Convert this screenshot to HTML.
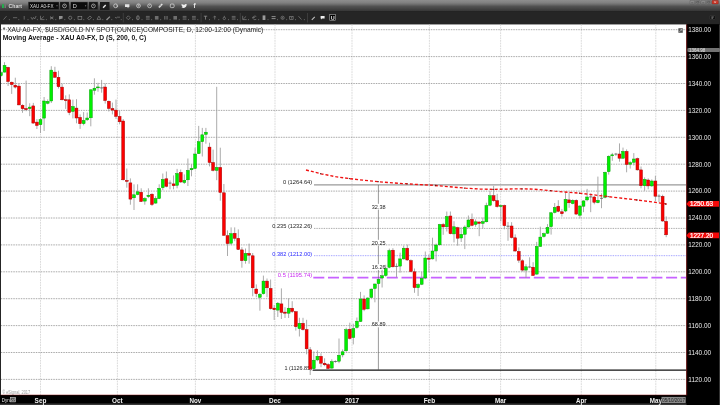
<!DOCTYPE html><html><head><meta charset="utf-8"><title>Chart</title><style>html,body{margin:0;padding:0;background:#000;overflow:hidden}svg{display:block}text{font-family:"Liberation Sans",sans-serif}</style></head><body>
<svg width="720" height="405" viewBox="0 0 720 405">
<defs><linearGradient id="tb" x1="0" y1="0" x2="0" y2="1"><stop offset="0" stop-color="#8e8e8e"/><stop offset="0.24" stop-color="#808080"/><stop offset="0.4" stop-color="#6a6a6a"/><stop offset="0.54" stop-color="#525252"/><stop offset="0.8" stop-color="#404040"/><stop offset="1" stop-color="#323232"/></linearGradient></defs>
<rect x="0" y="0" width="720" height="405" fill="#000"/>
<rect x="0" y="0" width="720" height="11.7" fill="url(#tb)"/>
<rect x="0" y="11.6" width="720" height="12.8" fill="#252525"/>
<rect x="0.8" y="24.4" width="685.7" height="370.6" fill="#fff"/>
<g stroke="#cdcdcd" stroke-width="0.7" stroke-dasharray="1.8 0.8">
<line x1="40.5" y1="24.4" x2="40.5" y2="395"/>
<line x1="117.4" y1="24.4" x2="117.4" y2="395"/>
<line x1="195.4" y1="24.4" x2="195.4" y2="395"/>
<line x1="275" y1="24.4" x2="275" y2="395"/>
<line x1="352" y1="24.4" x2="352" y2="395"/>
<line x1="429.4" y1="24.4" x2="429.4" y2="395"/>
<line x1="500.6" y1="24.4" x2="500.6" y2="395"/>
<line x1="581.3" y1="24.4" x2="581.3" y2="395"/>
<line x1="655.8" y1="24.4" x2="655.8" y2="395"/>
</g>
<g stroke="#626262" stroke-width="0.55" stroke-dasharray="1.5 1">
<line x1="0.8" y1="379.40" x2="686.5" y2="379.40"/>
<line x1="0.8" y1="352.50" x2="686.5" y2="352.50"/>
<line x1="0.8" y1="325.60" x2="686.5" y2="325.60"/>
<line x1="0.8" y1="298.70" x2="686.5" y2="298.70"/>
<line x1="0.8" y1="271.80" x2="686.5" y2="271.80"/>
<line x1="0.8" y1="244.90" x2="686.5" y2="244.90"/>
<line x1="0.8" y1="218.00" x2="686.5" y2="218.00"/>
<line x1="0.8" y1="191.10" x2="686.5" y2="191.10"/>
<line x1="0.8" y1="164.20" x2="686.5" y2="164.20"/>
<line x1="0.8" y1="137.30" x2="686.5" y2="137.30"/>
<line x1="0.8" y1="110.40" x2="686.5" y2="110.40"/>
<line x1="0.8" y1="83.50" x2="686.5" y2="83.50"/>
<line x1="0.8" y1="56.60" x2="686.5" y2="56.60"/>
<line x1="0.8" y1="29.70" x2="686.5" y2="29.70"/>
</g>
<text x="2.7" y="31.5" font-size="6.67" fill="#222" textLength="260.5" lengthAdjust="spacingAndGlyphs">* XAU A0-FX, $USD/GOLD NY SPOT(OUNCE)COMPOSITE, D, 12:00-12:00 (Dynamic)</text>
<text x="2.7" y="40.1" font-size="6.74" font-weight="bold" fill="#111" textLength="143.5" lengthAdjust="spacingAndGlyphs">Moving Average - XAU A0-FX, D (S, 200, 0, C)</text>
<text x="2.2" y="393.9" font-size="5.1" fill="#979797" textLength="28" lengthAdjust="spacingAndGlyphs">© eSignal, 2017</text>
<line x1="314" y1="184.86" x2="686.5" y2="184.86" stroke="#9a9a9a" stroke-width="1.1"/>
<line x1="314" y1="228.41" x2="686.5" y2="228.41" stroke="#444" stroke-width="0.55" stroke-dasharray="0.8 0.9"/>
<line x1="314" y1="255.66" x2="686.5" y2="255.66" stroke="#4848ff" stroke-width="0.6" stroke-dasharray="0.8 0.9"/>
<line x1="313.3" y1="277.53" x2="686.5" y2="277.53" stroke="#c862ff" stroke-width="1.7" stroke-dasharray="11 3.7"/>
<line x1="312.6" y1="370.19" x2="686.5" y2="370.19" stroke="#111" stroke-width="1.2"/>
<path d="M378.4 184.9V203.8M378.4 209.6V239.8M378.4 245.6V264.2M378.4 270.0V321.5M378.4 327.3V370.2" stroke="#555" stroke-width="0.6" fill="none"/>
<text x="282.9" y="184.25" font-size="5.7" fill="#222" textLength="29.3" lengthAdjust="spacingAndGlyphs">0 (1264.64)</text>
<text x="272.2" y="228.05" font-size="5.7" fill="#222" textLength="40.0" lengthAdjust="spacingAndGlyphs">0.235 (1232.26)</text>
<text x="272.2" y="255.85" font-size="5.7" fill="#2a2aff" textLength="40.0" lengthAdjust="spacingAndGlyphs">0.382 (1212.00)</text>
<text x="277.8" y="277.15" font-size="5.7" fill="#c828f0" textLength="34.4" lengthAdjust="spacingAndGlyphs">0.5 (1195.74)</text>
<text x="284.5" y="370.05" font-size="5.7" fill="#222" textLength="27.5" lengthAdjust="spacingAndGlyphs">1 (1126.85)</text>
<path d="M0.9 71.0V77.0M4.5 62.2V72.5M8.1 66.8V86.0M11.7 81.6V93.9M15.3 77.7V88.5M18.9 83.6V105.3M22.5 104.3V112.8M26.1 80.6V111.2M29.7 103.3V116.2M33.3 102.9V123.5M36.9 119.1V129.0M40.5 118.1V133.0M44.1 97.0V131.0M47.7 99.4V104.3M51.3 66.2V103.0M54.9 66.8V77.7M58.5 70.7V88.5M62.1 83.6V100.4M65.7 95.4V108.9M69.3 94.4V115.2M72.9 99.6V118.4M76.5 99.2V123.3M80.1 114.4V128.9M83.6 112.1V125.3M87.2 112.5V121.0M90.8 89.4V126.3M94.4 78.3V94.7M98.0 82.8V91.7M101.6 79.9V92.7M105.2 83.4V103.6M108.8 100.6V111.5M112.4 102.6V114.4M116.0 99.6V119.0M119.6 110.5V124.3M123.2 119.0V180.5M126.8 168.5V187.7M130.4 178.4V204.7M134.0 184.3V210.0M137.6 184.3V195.2M141.2 188.3V202.0M144.8 197.2V204.7M148.4 188.3V198.1M152.0 193.2V206.0M155.6 196.2V203.7M159.2 184.3V199.1M162.8 173.5V190.2M166.4 171.5V187.3M170.0 180.4V189.3M173.5 175.4V189.3M177.1 168.9V188.3M180.7 169.5V182.9M184.3 174.4V184.0M187.9 158.5V186.0M191.5 164.4V176.3M195.1 147.7V169.4M198.7 125.9V154.0M202.3 127.9V156.5M205.9 127.9V143.7M209.5 142.7V166.4M213.1 149.6V171.4M216.7 86.8V180.2M220.3 147.7V200.7M223.9 184.0V236.0M227.5 230.4V256.0M231.1 227.4V245.2M234.7 227.4V241.2M238.3 229.4V250.0M241.9 247.2V267.7M245.5 248.5V263.7M249.1 243.6V263.7M252.7 253.0V296.3M256.3 284.4V297.3M259.9 293.0V310.7M263.4 275.6V294.5M267.0 278.5V297.3M270.6 279.5V309.5M274.2 305.0V320.0M277.8 302.0V317.0M281.4 288.4V319.0M285.0 307.2V318.0M288.6 298.3V318.0M292.2 301.2V313.0M295.8 310.9V330.6M299.4 317.8V336.5M303.0 317.8V330.6M306.6 319.8V354.3M310.2 347.0V375.0M313.8 351.4V369.2M317.4 350.4V361.2M321.0 353.3V367.2M324.6 358.3V366.2M328.2 363.2V369.1M331.8 359.3V368.7M335.4 360.3V362.8M339.0 338.5V363.2M342.6 349.4V357.3M346.2 327.7V351.8M349.8 322.7V339.5M353.3 323.7V344.4M356.9 317.5V328.6M360.5 291.9V322.0M364.1 295.4V311.2M367.7 297.4V309.3M371.3 288.5V298.4M374.9 283.6V302.3M378.5 277.7V284.6M382.1 269.8V287.5M385.7 264.8V276.7M389.3 248.6V268.3M392.9 248.2V267.5M396.5 263.4V277.4M400.1 252.7V272.7M403.7 245.6V259.5M407.3 244.6V260.8M410.9 259.4V272.3M414.5 268.5V292.8M418.1 283.2V296.0M421.7 272.0V285.1M425.3 251.5V279.2M428.9 254.5V272.3M432.5 237.7V259.5M436.1 243.6V261.4M439.7 223.9V245.6M443.2 222.9V234.8M446.8 211.5V231.5M450.4 211.5V234.3M454.0 221.2V242.4M457.6 226.8V245.7M461.2 227.1V242.0M464.8 225.4V249.1M468.4 215.5V227.6M472.0 213.5V226.4M475.6 219.4V226.8M479.2 221.4V236.2M482.8 217.5V228.7M486.4 202.7V222.4M490.0 190.8V206.2M493.6 185.9V201.7M497.2 193.8V207.6M500.8 204.6V221.4M504.4 204.6V229.3M508.0 222.0V240.8M511.6 222.2V238.5M515.2 234.4V251.8M518.8 247.4V262.8M522.4 259.3V271.5M526.0 264.2V278.0M529.6 257.3V268.2M533.1 262.2V276.0M536.7 241.9V274.7M540.3 226.7V247.0M543.9 232.6V237.5M547.5 224.1V234.0M551.1 211.9V234.6M554.7 203.0V213.4M558.3 200.2V212.2M561.9 208.9V216.6M565.5 192.4V212.2M569.1 192.4V207.8M572.7 199.3V204.3M576.3 199.3V214.5M579.9 205.2V218.5M583.5 200.3V212.2M587.1 188.9V201.3M590.7 193.4V212.2M594.3 196.0V204.3M597.9 176.6V203.3M601.5 193.4V208.2M605.1 171.7V198.3M608.7 155.3V174.6M612.3 152.9V160.8M615.9 152.9V155.9M619.5 143.4V161.7M623.0 147.6V158.8M626.6 149.4V172.3M630.2 161.2V168.6M633.8 153.1V165.5M637.4 157.6V170.5M641.0 166.5V188.3M644.6 177.4V190.8M648.2 178.4V189.3M651.8 179.4V186.9M655.4 175.8V201.1M659.0 194.2V202.1M662.6 194.7V221.8M666.2 216.4V237.2" stroke="#9c9c9c" stroke-width="0.85" fill="none"/>
<g fill="#00f000" stroke="#009a00" stroke-width="0.45"><rect x="-0.51" y="72.70" width="2.9" height="3.00"/><rect x="3.09" y="65.40" width="2.9" height="6.70"/><rect x="28.26" y="107.10" width="2.9" height="1.60"/><rect x="39.05" y="119.70" width="2.9" height="5.00"/><rect x="42.64" y="101.00" width="2.9" height="17.10"/><rect x="46.24" y="101.40" width="2.9" height="1.90"/><rect x="49.83" y="70.10" width="2.9" height="30.90"/><rect x="71.41" y="106.50" width="2.9" height="5.00"/><rect x="82.20" y="120.40" width="2.9" height="3.30"/><rect x="85.79" y="118.00" width="2.9" height="1.80"/><rect x="89.39" y="89.80" width="2.9" height="28.00"/><rect x="92.99" y="88.20" width="2.9" height="2.10"/><rect x="96.58" y="86.95" width="2.9" height="0.90"/><rect x="132.54" y="194.80" width="2.9" height="3.00"/><rect x="136.14" y="191.80" width="2.9" height="2.80"/><rect x="143.33" y="198.50" width="2.9" height="2.60"/><rect x="146.93" y="195.20" width="2.9" height="1.40"/><rect x="154.12" y="198.50" width="2.9" height="4.60"/><rect x="157.71" y="188.30" width="2.9" height="10.20"/><rect x="161.31" y="179.40" width="2.9" height="8.30"/><rect x="175.69" y="173.50" width="2.9" height="11.80"/><rect x="182.89" y="180.30" width="2.9" height="2.20"/><rect x="186.48" y="170.40" width="2.9" height="9.40"/><rect x="190.08" y="168.40" width="2.9" height="1.40"/><rect x="193.67" y="154.00" width="2.9" height="14.40"/><rect x="197.27" y="141.70" width="2.9" height="11.90"/><rect x="200.87" y="134.80" width="2.9" height="6.90"/><rect x="204.46" y="132.20" width="2.9" height="2.20"/><rect x="215.25" y="167.40" width="2.9" height="3.00"/><rect x="229.63" y="233.70" width="2.9" height="9.50"/><rect x="244.02" y="253.40" width="2.9" height="7.30"/><rect x="258.40" y="294.30" width="2.9" height="3.00"/><rect x="262.00" y="281.10" width="2.9" height="12.60"/><rect x="276.38" y="303.20" width="2.9" height="6.90"/><rect x="287.17" y="308.20" width="2.9" height="5.00"/><rect x="297.96" y="323.30" width="2.9" height="5.30"/><rect x="312.34" y="360.20" width="2.9" height="8.50"/><rect x="315.94" y="356.30" width="2.9" height="3.60"/><rect x="330.32" y="361.60" width="2.9" height="6.50"/><rect x="337.51" y="355.30" width="2.9" height="5.90"/><rect x="341.11" y="351.80" width="2.9" height="3.10"/><rect x="344.71" y="329.60" width="2.9" height="21.20"/><rect x="351.90" y="328.60" width="2.9" height="8.90"/><rect x="355.49" y="321.20" width="2.9" height="6.30"/><rect x="359.09" y="299.00" width="2.9" height="22.50"/><rect x="366.28" y="298.00" width="2.9" height="10.90"/><rect x="369.88" y="289.10" width="2.9" height="8.30"/><rect x="373.47" y="284.00" width="2.9" height="4.50"/><rect x="377.07" y="279.20" width="2.9" height="4.40"/><rect x="380.67" y="275.70" width="2.9" height="2.30"/><rect x="384.26" y="268.40" width="2.9" height="7.10"/><rect x="387.86" y="250.60" width="2.9" height="16.70"/><rect x="398.65" y="258.90" width="2.9" height="7.20"/><rect x="402.24" y="248.20" width="2.9" height="10.70"/><rect x="416.63" y="284.50" width="2.9" height="3.20"/><rect x="420.22" y="278.40" width="2.9" height="5.90"/><rect x="423.82" y="258.00" width="2.9" height="20.00"/><rect x="431.01" y="251.00" width="2.9" height="7.90"/><rect x="434.61" y="245.00" width="2.9" height="6.00"/><rect x="438.20" y="224.50" width="2.9" height="20.30"/><rect x="445.39" y="216.50" width="2.9" height="10.30"/><rect x="452.59" y="226.80" width="2.9" height="7.10"/><rect x="459.78" y="234.30" width="2.9" height="3.70"/><rect x="463.37" y="227.10" width="2.9" height="7.20"/><rect x="466.97" y="220.00" width="2.9" height="7.00"/><rect x="474.16" y="221.80" width="2.9" height="2.60"/><rect x="481.35" y="221.60" width="2.9" height="1.80"/><rect x="484.95" y="205.60" width="2.9" height="16.20"/><rect x="488.55" y="195.70" width="2.9" height="9.50"/><rect x="499.33" y="205.50" width="2.9" height="1.00"/><rect x="524.51" y="266.80" width="2.9" height="3.30"/><rect x="535.29" y="246.40" width="2.9" height="27.70"/><rect x="538.89" y="237.10" width="2.9" height="9.30"/><rect x="542.49" y="233.60" width="2.9" height="2.90"/><rect x="546.08" y="227.30" width="2.9" height="5.90"/><rect x="549.68" y="212.80" width="2.9" height="13.90"/><rect x="553.27" y="207.40" width="2.9" height="5.10"/><rect x="564.06" y="199.30" width="2.9" height="11.70"/><rect x="571.25" y="200.30" width="2.9" height="3.30"/><rect x="578.45" y="206.00" width="2.9" height="9.20"/><rect x="582.04" y="200.90" width="2.9" height="5.30"/><rect x="585.64" y="197.00" width="2.9" height="2.90"/><rect x="596.43" y="200.30" width="2.9" height="2.40"/><rect x="603.62" y="172.30" width="2.9" height="25.00"/><rect x="607.21" y="156.30" width="2.9" height="15.40"/><rect x="610.81" y="154.80" width="2.9" height="1.00"/><rect x="621.60" y="151.40" width="2.9" height="6.80"/><rect x="628.79" y="162.70" width="2.9" height="1.50"/><rect x="632.39" y="159.00" width="2.9" height="3.30"/><rect x="643.17" y="179.40" width="2.9" height="6.30"/><rect x="650.37" y="181.00" width="2.9" height="4.90"/></g>
<g fill="#fb0000" stroke="#a00000" stroke-width="0.45"><rect x="6.68" y="67.40" width="2.9" height="14.20"/><rect x="10.28" y="82.20" width="2.9" height="2.40"/><rect x="13.87" y="85.20" width="2.9" height="1.90"/><rect x="17.47" y="86.10" width="2.9" height="18.80"/><rect x="21.07" y="105.30" width="2.9" height="3.40"/><rect x="24.66" y="108.50" width="2.9" height="1.20"/><rect x="31.85" y="105.90" width="2.9" height="17.20"/><rect x="35.45" y="122.10" width="2.9" height="3.40"/><rect x="53.43" y="72.10" width="2.9" height="5.20"/><rect x="57.03" y="77.30" width="2.9" height="9.40"/><rect x="60.62" y="87.10" width="2.9" height="12.70"/><rect x="64.22" y="99.75" width="2.9" height="0.90"/><rect x="67.81" y="99.80" width="2.9" height="12.80"/><rect x="75.01" y="108.10" width="2.9" height="9.90"/><rect x="78.60" y="117.40" width="2.9" height="6.30"/><rect x="103.77" y="87.00" width="2.9" height="13.60"/><rect x="107.37" y="101.20" width="2.9" height="7.30"/><rect x="110.97" y="108.50" width="2.9" height="1.60"/><rect x="114.56" y="110.10" width="2.9" height="6.30"/><rect x="118.16" y="116.40" width="2.9" height="5.40"/><rect x="121.75" y="121.00" width="2.9" height="58.80"/><rect x="125.35" y="180.40" width="2.9" height="1.00"/><rect x="128.95" y="182.90" width="2.9" height="16.20"/><rect x="139.73" y="192.20" width="2.9" height="9.30"/><rect x="150.52" y="194.20" width="2.9" height="10.30"/><rect x="164.91" y="178.80" width="2.9" height="7.50"/><rect x="172.10" y="183.90" width="2.9" height="1.80"/><rect x="179.29" y="172.40" width="2.9" height="9.60"/><rect x="208.06" y="147.10" width="2.9" height="15.40"/><rect x="211.65" y="162.50" width="2.9" height="7.90"/><rect x="218.85" y="167.40" width="2.9" height="25.10"/><rect x="222.44" y="192.80" width="2.9" height="42.50"/><rect x="226.04" y="235.70" width="2.9" height="7.90"/><rect x="233.23" y="233.30" width="2.9" height="5.00"/><rect x="236.83" y="238.30" width="2.9" height="11.20"/><rect x="240.42" y="249.90" width="2.9" height="10.80"/><rect x="247.61" y="253.40" width="2.9" height="1.80"/><rect x="251.21" y="255.80" width="2.9" height="32.00"/><rect x="254.81" y="289.00" width="2.9" height="4.70"/><rect x="265.59" y="281.10" width="2.9" height="6.70"/><rect x="269.19" y="288.40" width="2.9" height="20.30"/><rect x="272.79" y="308.10" width="2.9" height="1.60"/><rect x="279.98" y="303.90" width="2.9" height="8.50"/><rect x="283.57" y="312.10" width="2.9" height="1.10"/><rect x="290.77" y="308.20" width="2.9" height="3.30"/><rect x="294.36" y="311.70" width="2.9" height="15.00"/><rect x="301.55" y="323.30" width="2.9" height="6.30"/><rect x="305.15" y="329.60" width="2.9" height="19.20"/><rect x="308.75" y="349.80" width="2.9" height="19.30"/><rect x="319.53" y="356.30" width="2.9" height="6.90"/><rect x="323.13" y="363.20" width="2.9" height="1.60"/><rect x="326.73" y="364.60" width="2.9" height="3.90"/><rect x="348.30" y="329.20" width="2.9" height="9.30"/><rect x="362.69" y="299.00" width="2.9" height="10.30"/><rect x="391.45" y="250.20" width="2.9" height="16.60"/><rect x="405.84" y="248.20" width="2.9" height="11.80"/><rect x="409.43" y="260.60" width="2.9" height="10.90"/><rect x="413.03" y="271.80" width="2.9" height="15.80"/><rect x="427.41" y="258.10" width="2.9" height="1.10"/><rect x="441.80" y="224.50" width="2.9" height="2.40"/><rect x="448.99" y="216.00" width="2.9" height="17.70"/><rect x="456.18" y="227.70" width="2.9" height="10.50"/><rect x="470.57" y="219.40" width="2.9" height="6.00"/><rect x="477.76" y="222.00" width="2.9" height="1.40"/><rect x="492.14" y="195.70" width="2.9" height="5.00"/><rect x="495.74" y="200.70" width="2.9" height="5.90"/><rect x="502.93" y="205.50" width="2.9" height="20.20"/><rect x="510.12" y="226.00" width="2.9" height="11.60"/><rect x="513.72" y="237.80" width="2.9" height="13.20"/><rect x="517.31" y="251.40" width="2.9" height="8.80"/><rect x="520.91" y="260.80" width="2.9" height="9.30"/><rect x="531.70" y="267.20" width="2.9" height="8.30"/><rect x="556.87" y="206.20" width="2.9" height="5.10"/><rect x="560.47" y="211.80" width="2.9" height="1.90"/><rect x="567.66" y="199.90" width="2.9" height="2.90"/><rect x="574.85" y="200.30" width="2.9" height="13.80"/><rect x="592.83" y="197.00" width="2.9" height="5.30"/><rect x="618.00" y="154.00" width="2.9" height="4.20"/><rect x="625.19" y="151.40" width="2.9" height="13.10"/><rect x="635.98" y="158.60" width="2.9" height="11.30"/><rect x="639.58" y="169.90" width="2.9" height="15.80"/><rect x="646.77" y="180.00" width="2.9" height="5.90"/><rect x="653.96" y="181.00" width="2.9" height="15.20"/><rect x="661.15" y="196.30" width="2.9" height="24.70"/><rect x="664.75" y="221.40" width="2.9" height="13.40"/></g>
<path d="M100.1 87.9h3M168.5 183.1h3M333.9 361.5h3M395.0 266.4h3M506.5 226.2h3M528.1 267.0h3M589.2 196.9h3M600.0 198.3h3M614.4 154.1h3M657.5 196.1h3" stroke="#555" stroke-width="0.8" fill="none"/>
<text x="371.8" y="208.75" font-size="5.7" fill="#1c1c1c" textLength="13.8" lengthAdjust="spacingAndGlyphs">32.38</text>
<text x="371.8" y="244.75" font-size="5.7" fill="#1c1c1c" textLength="13.8" lengthAdjust="spacingAndGlyphs">20.25</text>
<text x="371.8" y="269.15" font-size="5.7" fill="#1c1c1c" textLength="13.8" lengthAdjust="spacingAndGlyphs">16.26</text>
<text x="371.8" y="326.45" font-size="5.7" fill="#1c1c1c" textLength="13.8" lengthAdjust="spacingAndGlyphs">68.89</text>
<polyline fill="none" stroke="#f01010" stroke-width="1.35" stroke-dasharray="3 2" points="306,170 321.1,173.8 335.6,176.7 350,178.7 364.4,180.3 378.9,181.8 393.3,182.9 407.8,183.9 420,184.6 433,185.3 440,185.9 465.7,188.2 480,189.0 493.3,189.4 506,189.1 519,188.8 530,189.0 540,189.6 555,191.2 580.7,193.3 606.4,196.4 634,199.6 650,201.6 667.3,204.2"/>
<g fill="#4a1a1a"><circle cx="320.7" cy="173.7" r="0.65"/><circle cx="349.4" cy="178.6" r="0.65"/><circle cx="378.2" cy="181.7" r="0.65"/><circle cx="406.9" cy="183.8" r="0.65"/><circle cx="435.7" cy="185.5" r="0.65"/><circle cx="464.4" cy="188.1" r="0.65"/><circle cx="493.2" cy="189.4" r="0.65"/><circle cx="522.0" cy="188.9" r="0.65"/><circle cx="550.7" cy="190.7" r="0.65"/><circle cx="579.5" cy="193.2" r="0.65"/><circle cx="608.2" cy="196.6" r="0.65"/><circle cx="637.0" cy="200.0" r="0.65"/><circle cx="665.7" cy="204.0" r="0.65"/></g>
<rect x="678.4" y="28.2" width="4.4" height="4.6" fill="#555"/><path d="M679.4 31.8l2.4-2.4M681.8 29.4v1.4M681.8 29.4h-1.4" stroke="#eee" stroke-width="0.5" fill="none"/>
<line x1="0.4" y1="24.4" x2="0.4" y2="395" stroke="#222" stroke-width="0.9"/>
<line x1="0.8" y1="395.15" x2="687.0" y2="395.15" stroke="#8a1010" stroke-width="0.7"/>
<rect x="686.5" y="24.4" width="33.5" height="380.6" fill="#000"/>
<line x1="686.7" y1="24.4" x2="686.7" y2="395.4" stroke="#8c1414" stroke-width="0.7"/>
<rect x="719" y="24.4" width="1" height="380.6" fill="#333"/>
<text x="688.3" y="381.75" font-size="6.3" fill="#eaeaea" textLength="22.8" lengthAdjust="spacingAndGlyphs">1120.00</text>
<text x="688.3" y="354.85" font-size="6.3" fill="#eaeaea" textLength="22.8" lengthAdjust="spacingAndGlyphs">1140.00</text>
<text x="688.3" y="327.95" font-size="6.3" fill="#eaeaea" textLength="22.8" lengthAdjust="spacingAndGlyphs">1160.00</text>
<text x="688.3" y="301.05" font-size="6.3" fill="#eaeaea" textLength="22.8" lengthAdjust="spacingAndGlyphs">1180.00</text>
<text x="688.3" y="274.15" font-size="6.3" fill="#eaeaea" textLength="22.8" lengthAdjust="spacingAndGlyphs">1200.00</text>
<text x="688.3" y="247.25" font-size="6.3" fill="#eaeaea" textLength="22.8" lengthAdjust="spacingAndGlyphs">1220.00</text>
<text x="688.3" y="220.35" font-size="6.3" fill="#eaeaea" textLength="22.8" lengthAdjust="spacingAndGlyphs">1240.00</text>
<text x="688.3" y="193.45" font-size="6.3" fill="#eaeaea" textLength="22.8" lengthAdjust="spacingAndGlyphs">1260.00</text>
<text x="688.3" y="166.55" font-size="6.3" fill="#eaeaea" textLength="22.8" lengthAdjust="spacingAndGlyphs">1280.00</text>
<text x="688.3" y="139.65" font-size="6.3" fill="#eaeaea" textLength="22.8" lengthAdjust="spacingAndGlyphs">1300.00</text>
<text x="688.3" y="112.75" font-size="6.3" fill="#eaeaea" textLength="22.8" lengthAdjust="spacingAndGlyphs">1320.00</text>
<text x="688.3" y="85.85" font-size="6.3" fill="#eaeaea" textLength="22.8" lengthAdjust="spacingAndGlyphs">1340.00</text>
<text x="688.3" y="58.95" font-size="6.3" fill="#eaeaea" textLength="22.8" lengthAdjust="spacingAndGlyphs">1360.00</text>
<text x="688.3" y="32.05" font-size="6.3" fill="#eaeaea" textLength="22.8" lengthAdjust="spacingAndGlyphs">1380.00</text>
<rect x="687.4" y="47.90" width="32.6" height="4.2" rx="1" fill="#727272"/>
<text x="688.9" y="51.65" font-size="4.6" fill="#e2e2e2" textLength="16.3" lengthAdjust="spacingAndGlyphs">1364.98</text>
<path d="M686.3 203.90l2.6-2.95H719v5.9H688.9z" fill="#f40808"/>
<text x="690.1" y="206.15" font-size="6.3" fill="#fff" stroke="#fff" stroke-width="0.22" textLength="22.8" lengthAdjust="spacingAndGlyphs">1250.63</text>
<path d="M686.3 235.42l2.6-2.95H719v5.9H688.9z" fill="#f40808"/>
<text x="690.1" y="237.67" font-size="6.3" fill="#fff" stroke="#fff" stroke-width="0.22" textLength="22.8" lengthAdjust="spacingAndGlyphs">1227.20</text>
<rect x="0" y="395.4" width="686.5" height="8.2" fill="#000"/>
<rect x="0" y="403.5" width="686.5" height="1.5" fill="#3a3a3a"/>
<text x="34.6" y="402.8" font-size="6.6" font-weight="bold" fill="#f2f2f2" textLength="11.8" lengthAdjust="spacingAndGlyphs">Sep</text>
<text x="112.1" y="402.8" font-size="6.6" font-weight="bold" fill="#f2f2f2" textLength="10.6" lengthAdjust="spacingAndGlyphs">Oct</text>
<text x="189.5" y="402.8" font-size="6.6" font-weight="bold" fill="#f2f2f2" textLength="11.8" lengthAdjust="spacingAndGlyphs">Nov</text>
<text x="269.1" y="402.8" font-size="6.6" font-weight="bold" fill="#f2f2f2" textLength="11.8" lengthAdjust="spacingAndGlyphs">Dec</text>
<text x="344.9" y="402.8" font-size="6.6" font-weight="bold" fill="#f2f2f2" textLength="14.2" lengthAdjust="spacingAndGlyphs">2017</text>
<text x="423.7" y="402.8" font-size="6.6" font-weight="bold" fill="#f2f2f2" textLength="11.4" lengthAdjust="spacingAndGlyphs">Feb</text>
<text x="495.0" y="402.8" font-size="6.6" font-weight="bold" fill="#f2f2f2" textLength="11.2" lengthAdjust="spacingAndGlyphs">Mar</text>
<text x="576.0" y="402.8" font-size="6.6" font-weight="bold" fill="#f2f2f2" textLength="10.6" lengthAdjust="spacingAndGlyphs">Apr</text>
<text x="649.7" y="402.8" font-size="6.6" font-weight="bold" fill="#f2f2f2" textLength="12.2" lengthAdjust="spacingAndGlyphs">May</text>
<rect x="661.5" y="396.9" width="24.2" height="6.2" fill="#8a8a8a"/>
<text x="662.3" y="401.8" font-size="4.6" fill="#222" textLength="22.6" lengthAdjust="spacingAndGlyphs">05/10/2017</text>
<text x="1.8" y="402.2" font-size="6" fill="#eee" textLength="7.8" lengthAdjust="spacingAndGlyphs">Dyn</text>
<rect x="10.4" y="397.3" width="5.2" height="4.6" fill="#555" stroke="#ccc" stroke-width="0.6"/><path d="M11.2 401l1.4-1.6 1.1 0.9 1.4-2" stroke="#ddd" stroke-width="0.5" fill="none"/>
<rect x="2" y="4.2" width="1.9" height="3.8" fill="#22b14c"/><rect x="4.5" y="4.2" width="1.5" height="3.8" fill="#777"/>
<text x="8.6" y="8.4" font-size="6" font-weight="bold" fill="#d8d8d8" textLength="13.4" lengthAdjust="spacingAndGlyphs">Chart</text>
<rect x="28.2" y="2" width="30.8" height="7.7" fill="#0c0c0c" stroke="#555" stroke-width="0.4"/>
<text x="29.9" y="8" font-size="5.6" fill="#ddd" textLength="23.6" lengthAdjust="spacingAndGlyphs">XAU A0-FX</text>
<path d="M56.2 5.4h1.6l-0.8 1z" fill="#aaa"/>
<rect x="60" y="2" width="9" height="7.7" fill="#151515" stroke="#444" stroke-width="0.4"/><circle cx="64.5" cy="5.9" r="1.9" fill="none" stroke="#ddd" stroke-width="0.6"/><path d="M64.5 4.8v1.3" stroke="#ddd" stroke-width="0.5"/>
<rect x="70.8" y="2" width="17" height="7.7" fill="#0c0c0c" stroke="#555" stroke-width="0.4"/>
<text x="72.8" y="8" font-size="5.6" fill="#ddd">D</text><path d="M84.8 5.4h1.6l-0.8 1z" fill="#aaa"/>
<rect x="88.9" y="2" width="9" height="7.7" fill="#151515" stroke="#444" stroke-width="0.4"/><circle cx="93.4" cy="5.9" r="1.9" fill="none" stroke="#ddd" stroke-width="0.6"/><path d="M93.4 4.8v1.3" stroke="#ddd" stroke-width="0.5"/>
<rect x="100" y="2" width="9.5" height="8" fill="#1c1c1c"/>
<path d="M102.6 7.2l2.6-2.6 1 1-2.6 2.6z" fill="#e8e8e8"/>
<circle cx="115.6" cy="5.8" r="1.9" fill="none" stroke="#e0e0e0" stroke-width="0.7"/>
<circle cx="138.5" cy="5.8" r="1.9" fill="none" stroke="#e0e0e0" stroke-width="0.7"/>
<circle cx="149.6" cy="5.8" r="1.9" fill="none" stroke="#e0e0e0" stroke-width="0.7"/>
<path d="M116.200 5.800h1.400v1.400" stroke="#e0e0e0" stroke-width="0.5" fill="none"/>
<path d="M125 4.200h4.400v2.800h-1.200l.600 1.200-1.800-1.200h-2z" fill="#e4e4e4"/>
<path d="M138.500 6.800v-2M137.700 5.600l.8-.8.8.8" stroke="#e0e0e0" stroke-width="0.5" fill="none"/>
<path d="M149.600 4.800v1.200" stroke="#e0e0e0" stroke-width="0.5" fill="none"/>
<path d="M159.400 6.900l2.400-2.400" stroke="#e8e8e8" stroke-width="1.700" stroke-linecap="round" fill="none"/><path d="M159.800 6.500l1.600-1.600" stroke="#555" stroke-width="0.5" fill="none"/>
<rect x="170.300" y="4" width="3.800" height="3.600" rx="1" fill="none" stroke="#e0e0e0" stroke-width="0.700"/>
<path transform="translate(0,-0.8)" d="M181.6 4.6c1 .9 2.2 1.2 3.2.8.3-.6 1-.8 1.6-.3l.6-.2-.4.6c.1 1.8-1.6 3.4-3.6 3.2-.8 0-1.4-.2-1.8-.5.7 0 1.2-.1 1.6-.5-1-.4-1.4-1.600-1.200-3.100z" fill="#eee"/>
<text x="193.6" y="8.2" font-size="6.4" font-weight="bold" fill="#eee">f</text>
<rect x="690" y="0.3" width="4.6" height="3.6" rx="0.6" fill="#8a8a8a" stroke="#444" stroke-width="0.3"/>
<rect x="695.5" y="0.3" width="4.6" height="3.6" rx="0.6" fill="#8a8a8a" stroke="#444" stroke-width="0.3"/>
<rect x="701" y="0.3" width="4.6" height="3.6" rx="0.6" fill="#8a8a8a" stroke="#444" stroke-width="0.3"/>
<rect x="706.5" y="0.3" width="4.6" height="3.6" rx="0.6" fill="#8a8a8a" stroke="#444" stroke-width="0.3"/>
<path d="M691.2 2.800h2.200M696.700 1.400h2.200v1.600h-2.200zM702.200 2.800h2.200M707.700 1.300h2.200v1.700h-2.200z" stroke="#333" stroke-width="0.45" fill="none"/>
<rect x="712" y="0.3" width="6.4" height="3.6" rx="0.6" fill="#c83a2a" stroke="#611" stroke-width="0.3"/>
<path d="M714.200 1.200l1.800 1.800M716 1.200l-1.800 1.800" stroke="#f4dcdc" stroke-width="0.5"/>
<rect x="710" y="15.9" width="5.6" height="3.5" fill="#111" stroke="#555" stroke-width="0.3"/><path d="M711.4 17h2.4M711.4 18.200h1.6" stroke="#ddd" stroke-width="0.5"/>
<path d="M3.5 19.6l3-3.4" stroke="#8e8e8e" stroke-width="0.6" fill="none"/>
<rect x="8.9" y="19.300" width="0.800" height="0.800" fill="#8a8a8a"/>
<path d="M13 17.7h4.2" stroke="#8e8e8e" stroke-width="0.6" fill="none"/>
<rect x="18.4" y="19.300" width="0.800" height="0.800" fill="#8a8a8a"/>
<path d="M24.2 16v3.6" stroke="#8e8e8e" stroke-width="0.6" fill="none"/>
<rect x="27.599999999999998" y="19.300" width="0.800" height="0.800" fill="#8a8a8a"/>
<path d="M30.9 17l1.400 2.400 1.2-2 1.2 1.6 1.400-3" stroke="#8e8e8e" stroke-width="0.6" fill="none"/>
<rect x="36.9" y="19.300" width="0.800" height="0.800" fill="#8a8a8a"/>
<path d="M40.5 15.800v3.800h4M41.1 19l2.800-2.600" stroke="#8e8e8e" stroke-width="0.6" fill="none"/>
<rect x="45.9" y="19.300" width="0.800" height="0.800" fill="#8a8a8a"/>
<path d="M50 16.400l3.400 3M53.4 16.400l-3.400 3M50 17.900h3.400" stroke="#8e8e8e" stroke-width="0.6" fill="none"/>
<rect x="55.4" y="19.300" width="0.800" height="0.800" fill="#8a8a8a"/>
<path d="M59 16v3.600l3.600-1.200v-2.400z" fill="#8e8e8e"/>
<rect x="64.4" y="19.300" width="0.800" height="0.800" fill="#8a8a8a"/>
<circle cx="70.2" cy="17.8" r="1.600" stroke="#8e8e8e" stroke-width="0.6" fill="none"/>
<rect x="73.9" y="19.300" width="0.800" height="0.800" fill="#8a8a8a"/>
<rect x="78" y="16.300" width="3.800" height="3" stroke="#8e8e8e" stroke-width="0.6" fill="none"/>
<rect x="83.4" y="19.300" width="0.800" height="0.800" fill="#8a8a8a"/>
<path d="M87.5 18.400l2.400-2.400 1.600 1.400-2.400 2.400z" stroke="#8e8e8e" stroke-width="0.6" fill="none"/>
<rect x="92.9" y="19.300" width="0.800" height="0.800" fill="#8a8a8a"/>
<path d="M97 19.400l1.900-3.300 1.900 3.300z" stroke="#8e8e8e" stroke-width="0.6" fill="none"/>
<rect x="102.4" y="19.300" width="0.800" height="0.800" fill="#8a8a8a"/>
<path d="M106 19.600l3.400-3.400 1 .8-3.400 3.400z" fill="#8e8e8e"/>
<rect x="111.4" y="19.300" width="0.800" height="0.800" fill="#8a8a8a"/>
<path d="M115.0 17.200l1.200 .9 1-.9h2.800" stroke="#8e8e8e" stroke-width="0.6" fill="none"/>
<rect x="120.80000000000001" y="19.300" width="0.800" height="0.800" fill="#8a8a8a"/>
<path d="M128.35 15.800l2 2-2 2-2-2z" stroke="#8e8e8e" stroke-width="0.6" fill="none"/>
<rect x="132.15" y="19.300" width="0.800" height="0.800" fill="#8a8a8a"/>
<ellipse cx="137.89999999999998" cy="17.8" rx="1.500" ry="2" stroke="#8e8e8e" stroke-width="0.6" fill="none"/><path d="M137.89999999999998 15.600v4.400" stroke="#8e8e8e" stroke-width="0.6" fill="none"/>
<rect x="141.6" y="19.300" width="0.800" height="0.800" fill="#8a8a8a"/>
<path d="M145.9 16.400h3.800M145.9 17.800h3.800M145.9 19.200h3.800" stroke="#8e8e8e" stroke-width="0.6" fill="none"/>
<rect x="151.3" y="19.300" width="0.800" height="0.800" fill="#8a8a8a"/>
<rect x="154.9" y="16" width="3.600" height="3.600" fill="#6e6e6e"/>
<rect x="160.3" y="19.300" width="0.800" height="0.800" fill="#8a8a8a"/>
<path d="M164.85 16v3.600M167.05 16v3.600" stroke="#8e8e8e" stroke-width="0.800" fill="none"/>
<rect x="169.65" y="19.300" width="0.800" height="0.800" fill="#8a8a8a"/>
<rect x="173.4" y="16" width="3.600" height="3.600" fill="#6e6e6e"/>
<rect x="178.8" y="19.300" width="0.800" height="0.800" fill="#8a8a8a"/>
<path d="M182.7 16.400h3.800M182.7 17.800h3.800M182.7 19.200h3.800" stroke="#8e8e8e" stroke-width="0.6" fill="none"/>
<rect x="188.1" y="19.300" width="0.800" height="0.800" fill="#8a8a8a"/>
<path d="M192 16.400h3.800M192 17.800h3.800M192 19.200h3.800" stroke="#8e8e8e" stroke-width="0.6" fill="none"/>
<rect x="197.4" y="19.300" width="0.800" height="0.800" fill="#8a8a8a"/>
<path d="M203.8 16.200h3.400M205.5 16.200v3.400" stroke="#8e8e8e" stroke-width="0.800" fill="none"/>
<rect x="209.20000000000002" y="19.300" width="0.800" height="0.800" fill="#8a8a8a"/>
<path d="M214.7 19.600v-3.400M213.3 17.400l1.400-1.400 1.400 1.400" stroke="#8e8e8e" stroke-width="0.6" fill="none"/>
<rect x="218.4" y="19.300" width="0.800" height="0.800" fill="#8a8a8a"/>
<circle cx="224.29999999999998" cy="18.400" r="1.200" stroke="#8e8e8e" stroke-width="0.6" fill="none"/><path d="M224.29999999999998 15.800v1.400" stroke="#8e8e8e" stroke-width="0.6" fill="none"/>
<rect x="228.0" y="19.300" width="0.800" height="0.800" fill="#8a8a8a"/>
<path d="M231.75 16.400h3.800M231.75 17.800h3.800M231.75 19.200h3.800" stroke="#8e8e8e" stroke-width="0.6" fill="none"/>
<rect x="237.15" y="19.300" width="0.800" height="0.800" fill="#8a8a8a"/>
<path d="M242.7 15.800v3.800h4M243.29999999999998 19l2.800-2.600" stroke="#8e8e8e" stroke-width="0.6" fill="none"/>
<rect x="248.1" y="19.300" width="0.800" height="0.800" fill="#8a8a8a"/>
<path d="M256.3 16.400c-2.200-1-3.400.400-3.400 1.500s1.200 2.400 3.400 1.400M252.3 17.400h2.600" stroke="#8e8e8e" stroke-width="0.6" fill="none"/>
<rect x="258.3" y="19.300" width="0.800" height="0.800" fill="#8a8a8a"/>
<rect x="262.59999999999997" y="15.400" width="2.800" height="4.600" fill="#9a9a9a"/>
<rect x="267.59999999999997" y="19.300" width="0.800" height="0.800" fill="#8a8a8a"/>
<path d="M271.6 16.600h4M271.6 18.600h4" stroke="#8e8e8e" stroke-width="1" fill="none"/>
<rect x="277.0" y="19.300" width="0.800" height="0.800" fill="#8a8a8a"/>
<circle cx="282.59999999999997" cy="17.8" r="1.600" stroke="#8e8e8e" stroke-width="0.6" fill="none"/><circle cx="282.59999999999997" cy="17.8" r="0.6" fill="#8e8e8e"/>
<rect x="286.29999999999995" y="19.300" width="0.800" height="0.800" fill="#8a8a8a"/>
<rect x="289.7" y="16.300" width="3.400" height="3.200" stroke="#8e8e8e" stroke-width="0.6" fill="none"/><rect x="290.9" y="17.400" width="1" height="1" fill="#8e8e8e"/>
<rect x="295.09999999999997" y="19.300" width="0.800" height="0.800" fill="#8a8a8a"/>
<path d="M298.5 16.200l3 3.4" stroke="#8e8e8e" stroke-width="0.6" fill="none"/>
<rect x="303.9" y="19.300" width="0.800" height="0.800" fill="#8a8a8a"/>
<line x1="123.3" y1="13" x2="123.3" y2="22.500" stroke="#555" stroke-width="0.5"/>
<line x1="201.1" y1="13" x2="201.1" y2="22.500" stroke="#555" stroke-width="0.5"/>
<line x1="240.3" y1="13" x2="240.3" y2="22.500" stroke="#555" stroke-width="0.5"/>
<line x1="307.5" y1="13" x2="307.5" y2="22.500" stroke="#555" stroke-width="0.5"/>
<path d="M311.4 19.4l3-3 .8.8-3 3z" fill="#bbb"/>
<path d="M320.600 16h4v2.600h-2.400l-1 1v-1h-.600z" fill="#eee"/>
<rect x="329.800" y="14.4" width="5.6" height="6.200" fill="#000" stroke="#ccc" stroke-width="0.5"/><text x="330.900" y="19.500" font-size="5" font-weight="bold" fill="#fff">U</text>
</svg></body></html>
